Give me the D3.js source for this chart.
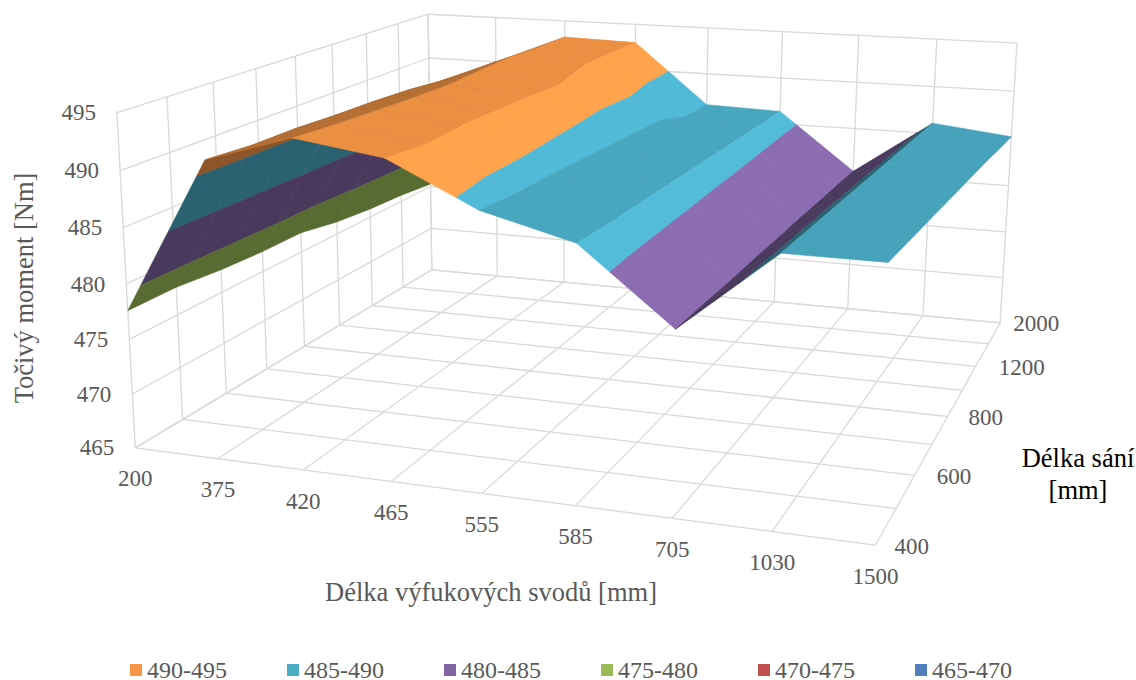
<!DOCTYPE html>
<html><head><meta charset="utf-8">
<script src="https://cdn.jsdelivr.net/npm/d3@7"></script>
<style>html,body{margin:0;padding:0;background:#fff}svg{display:block}text{font-family:"Liberation Serif",serif}</style>
</head><body><svg id="c" width="1136" height="680"></svg>
<script>
const exhaustLengths=["200","375","420","465","555","585","705","1030","1500"];
const intakeLengths=["400","500","600","700","800","1000","1200","1600","2000"];
const intakeTicks=["400","600","800","1200","2000"];
const torqueTicks=[465,470,475,480,485,490,495];
const z400=[477.6,491.5,493.9,492.8,489.1,487.1,480.85,487.7,487.7];
const z500=[477.6,491.2,493.6,492.4,488.8,486.9,480.8,487.5,487.4];
const z600=[477.2,491.2,493.4,492.6,488.7,486.85,480.7,487.3,487.1];
const z700=[477.0,491.0,493.2,492.5,488.5,486.75,480.7,487.1,486.8];
const z800=[477.0,490.9,493.1,492.4,488.3,486.65,480.6,486.9,486.5];
const z1000=[476.3,490.7,493.3,492.2,488.1,486.6,480.6,486.7,486.2];
const z1200=[475.9,490.3,493.4,493.1,487.8,486.5,480.5,486.5,485.9];
const z1600=[475.7,490.1,493.2,493.05,486.7,486.4,480.45,486.3,485.5];
const z2000=[475.3,490.0,493.2,493.0,486.6,486.35,480.35,486.1,485.2];
const bandNames=["490-495","485-490","480-485","475-480","470-475","465-470"];
const bandLows=[490,485,480,475,470,465];
const bandColors=["#F79646","#4BACC6","#8064A2","#9BBB59","#C0504D","#4F81BD"];
const rows=[z400,z500,z600,z700,z800,z1000,z1200,z1600,z2000];

// box corners on the page, as (u,v,w) -> (x,y)
const corners=[[0,0,0,135,447.5],[1,0,0,875.7,545],[1,1,0,1000,323],[0,1,0,432,270],[0,0,1,117,113],[0,1,1,428,14],[1,1,1,1017,43]];
function solve(A,b){const n=b.length,M=A.map((r,i)=>[...r,b[i]]);
  for(let i=0;i<n;i++){let p=i;for(let k=i+1;k<n;k++)if(Math.abs(M[k][i])>Math.abs(M[p][i]))p=k;[M[i],M[p]]=[M[p],M[i]];
    for(let k=0;k<n;k++)if(k!==i){const f=M[k][i]/M[i][i];for(let l=i;l<=n;l++)M[k][l]-=f*M[i][l];}}
  return M.map((r,i)=>r[n]/r[i]);}
const eqs=[],rhs=[];
corners.forEach(([u,v,w,x,y])=>{
  eqs.push([u,v,w,1,0,0,0,0,-x*u,-x*v,-x*w]);rhs.push(x);
  eqs.push([0,0,0,0,u,v,w,1,-y*u,-y*v,-y*w]);rhs.push(y);});
const n=11,AtA=d3.range(n).map(i=>d3.range(n).map(j=>d3.sum(eqs,e=>e[i]*e[j]))),Atb=d3.range(n).map(i=>d3.sum(eqs,(e,k)=>e[i]*rhs[k]));
const H=solve(AtA,Atb);
function proj(u,v,w){const d=H[8]*u+H[9]*v+H[10]*w+1;
  return [(H[0]*u+H[1]*v+H[2]*w+H[3])/d,(H[4]*u+H[5]*v+H[6]*w+H[7])/d];}

const uS=d3.scalePoint().domain(exhaustLengths).range([0,1]);
const vS=d3.scalePoint().domain(intakeLengths).range([0,1]);
const wS=d3.scaleLinear().domain([465,495]).range([0,1]);
const P=(ex,inl,z)=>proj(uS(ex),vS(inl),wS(z));

const svg=d3.select("#c");
const gridC="#d9d9d9",line=d3.line(),closed=d3.line().curve(d3.curveLinearClosed);
const grid=svg.append("g").attr("fill","none").attr("stroke",gridC).attr("stroke-width",1.3);
const seg=(a,b)=>grid.append("path").attr("d",line([a,b]));
const x0=exhaustLengths[0],x1=exhaustLengths[8],y0=intakeLengths[0],y1=intakeLengths[8];
exhaustLengths.forEach(e=>{seg(P(e,y0,465),P(e,y1,465));seg(P(e,y1,465),P(e,y1,495));});
intakeLengths.forEach(i=>{seg(P(x0,i,465),P(x1,i,465));seg(P(x0,i,465),P(x0,i,495));});
torqueTicks.forEach(t=>{seg(P(x0,y0,t),P(x0,y1,t));seg(P(x0,y1,t),P(x1,y1,t));});

// surface: one light level per strip between two exhaust lengths, from the strip's mean slope
const shadeS=d3.scaleLinear().domain([-7,-3.5,-1.9,-0.9,0,2,5,14]).range([1.1,1.08,.97,.96,.93,.78,.57,.57]).clamp(true);
function clip(poly,lim,keepAbove){const out=[];
  poly.forEach((p,i)=>{const q=poly[(i+1)%poly.length];
    const pin=keepAbove?p[2]>=lim:p[2]<=lim,qin=keepAbove?q[2]>=lim:q[2]<=lim;
    if(pin)out.push(p);
    if(pin!==qin){const t=(lim-p[2])/(q[2]-p[2]);out.push([p[0]+t*(q[0]-p[0]),p[1]+t*(q[1]-p[1]),lim]);}});
  return out;}
const surf=svg.append("g");
const nodes=(i,j)=>[uS(exhaustLengths[i]),vS(intakeLengths[j]),rows[j][i]];
for(let i=0;i<8;i++){
  const sh=shadeS(d3.mean(rows,r=>r[i+1]-r[i]));
  for(let j=7;j>=0;j--){
    const a=nodes(i,j),b=nodes(i+1,j),c=nodes(i+1,j+1),d=nodes(i,j+1);
    bandLows.forEach((lo,k)=>{
      const poly=clip(clip([a,b,c,d],lo,true),lo+5,false);
      if(poly.length<3)return;
      const col=d3.rgb(bandColors[k]);
      const f=d3.rgb(Math.min(255,col.r*sh),Math.min(255,col.g*sh),Math.min(255,col.b*sh)).formatHex();
      surf.append("path").attr("d",closed(poly.map(p=>proj(p[0],p[1],wS(p[2])))))
        .attr("fill",f).attr("stroke",f).attr("stroke-width",.6).attr("stroke-linejoin","round");
    });
  }
}

const tick="#595959",fs=23,titleFs=26.5;
torqueTicks.forEach(t=>{const p=P(x0,y0,t);
  svg.append("text").attr("x",p[0]-21).attr("y",p[1]).attr("dy",".33em").attr("text-anchor","end").attr("fill",tick).attr("font-size",fs).text(t);});
exhaustLengths.forEach(e=>{const p=P(e,y0,465);
  svg.append("text").attr("x",p[0]).attr("y",p[1]+31).attr("dy",".33em").attr("text-anchor","middle").attr("fill",tick).attr("font-size",fs).text(e);});
const intakeTickDx=[19,22,21,23,13];
intakeTicks.forEach((t,i)=>{const p=P(x1,t,465);
  svg.append("text").attr("x",p[0]+intakeTickDx[i]).attr("y",p[1]+1).attr("dy",".33em").attr("fill",tick).attr("font-size",fs).text(t);});
svg.append("text").attr("x",491).attr("y",592).attr("dy",".33em").attr("text-anchor","middle").attr("fill",tick).attr("font-size",titleFs).text("Délka výfukových svodů [mm]");
svg.append("text").attr("transform","translate(24,288) rotate(-90)").attr("dy",".33em").attr("text-anchor","middle").attr("fill",tick).attr("font-size",titleFs).text("Točivý moment [Nm]");
svg.append("text").attr("x",1078).attr("y",458).attr("dy",".33em").attr("text-anchor","middle").attr("fill","#000").attr("font-size",titleFs).text("Délka sání");
svg.append("text").attr("x",1078).attr("y",490).attr("dy",".33em").attr("text-anchor","middle").attr("fill","#000").attr("font-size",titleFs).text("[mm]");

const legendX=d3.scalePoint().domain(bandNames).range([130,915]);
bandNames.forEach((b,i)=>{const x=legendX(b);
  svg.append("rect").attr("x",x).attr("y",664).attr("width",12).attr("height",12).attr("fill",bandColors[i]);
  svg.append("text").attr("x",x+17).attr("y",678).attr("fill",tick).attr("font-size",24).text(b);});
</script></body></html>
